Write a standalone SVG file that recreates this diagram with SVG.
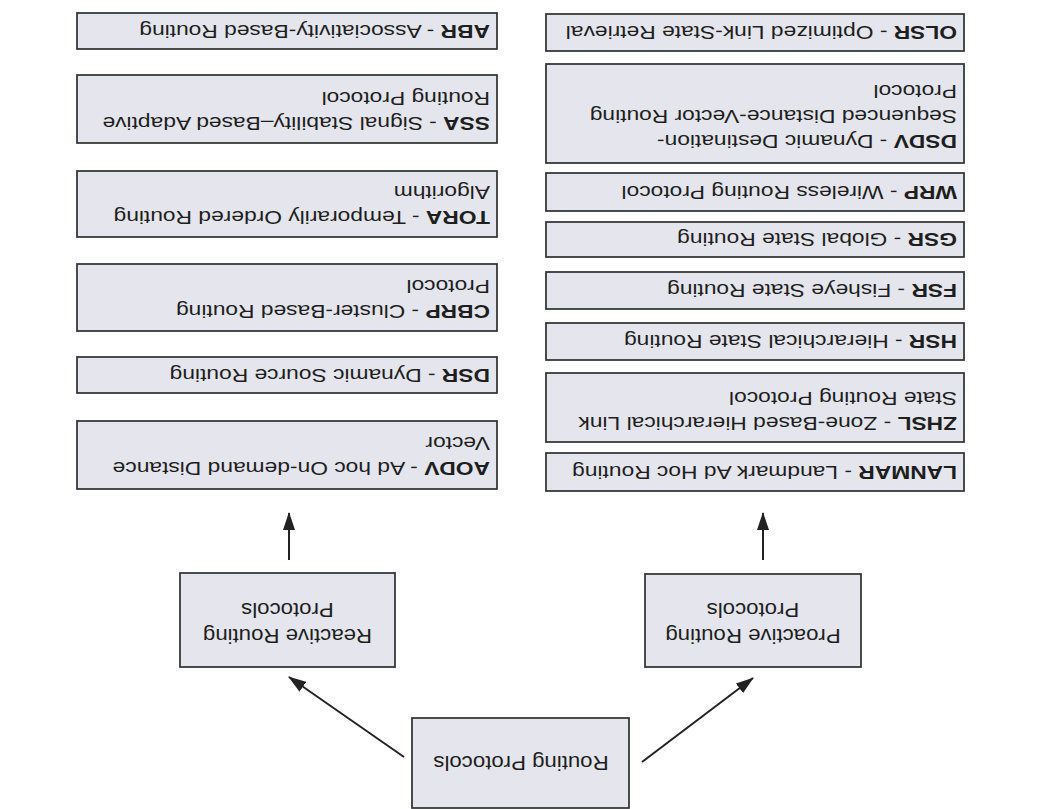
<svg xmlns="http://www.w3.org/2000/svg" width="1049" height="809" viewBox="0 0 1049 809">
<style>
.box{fill:#e5e6ed;stroke:#2e2e2e;stroke-width:1.7}
.t{font-family:"Liberation Sans",Arial,Helvetica,sans-serif;font-size:19px;fill:#1e1e1e}
.m{font-family:"Liberation Sans",Arial,Helvetica,sans-serif;font-size:19.5px;fill:#1e1e1e;text-anchor:middle}
.b{font-weight:bold}
.c{stroke:#222;stroke-width:2;fill:none}
</style>
<defs>
<marker id="ah" markerUnits="userSpaceOnUse" markerWidth="18" markerHeight="12" refX="17" refY="6" orient="auto">
<path d="M0,0 L18,6 L0,12 z" fill="#222"/>
</marker>
</defs>
<rect width="1049" height="809" fill="#fff"/>
<g transform="rotate(180 524.5 404.5)">
<g id="connectors">
<line class="c" x1="407" y1="47" x2="296" y2="131" marker-end="url(#ah)"/>
<line class="c" x1="645" y1="52" x2="760" y2="132" marker-end="url(#ah)"/>
<line class="c" x1="286" y1="249" x2="286" y2="296" marker-end="url(#ah)"/>
<line class="c" x1="760" y1="249" x2="760" y2="296" marker-end="url(#ah)"/>
</g>
<g id="routing-protocols">
<rect class="box" x="420" y="1" width="217" height="90"/>
<text class="m" transform="translate(528,53) scale(1.14,1)">Routing Protocols</text>
</g>
<g id="proactive">
<rect class="box" x="188" y="142" width="216" height="93"/>
<text class="m" transform="translate(296,180) scale(1.14,1)"><tspan x="0" y="0">Proactive Routing</tspan><tspan x="0" y="26">Protocols</tspan></text>
</g>
<g id="reactive">
<rect class="box" x="654" y="142" width="215" height="94"/>
<text class="m" transform="translate(761.5,180) scale(1.14,1)"><tspan x="0" y="0">Reactive Routing</tspan><tspan x="0" y="26">Protocols</tspan></text>
</g>
<g id="lanmar">
<rect class="box" x="85" y="318" width="418" height="38"/>
<text class="t" transform="translate(92,343.5) scale(1.2,1)"><tspan class="b">LANMAR</tspan> - Landmark Ad Hoc Routing</text>
</g>
<g id="zhsl">
<rect class="box" x="85" y="367" width="418" height="69"/>
<text class="t" transform="translate(92,392) scale(1.2,1)"><tspan x="0" y="0"><tspan class="b">ZHSL</tspan> - Zone-Based Hierarchical Link</tspan><tspan x="0" y="25">State Routing Protocol</tspan></text>
</g>
<g id="hsr">
<rect class="box" x="85" y="449" width="418" height="37"/>
<text class="t" transform="translate(92,474) scale(1.2,1)"><tspan class="b">HSR</tspan> - Hierarchical State Routing</text>
</g>
<g id="fsr">
<rect class="box" x="85" y="500" width="418" height="37"/>
<text class="t" transform="translate(92,525) scale(1.2,1)"><tspan class="b">FSR</tspan> - Fisheye State Routing</text>
</g>
<g id="gsr">
<rect class="box" x="85" y="552" width="418" height="35"/>
<text class="t" transform="translate(92,576) scale(1.2,1)"><tspan class="b">GSR</tspan> - Global State Routing</text>
</g>
<g id="wrp">
<rect class="box" x="85" y="598" width="418" height="38"/>
<text class="t" transform="translate(92,623.5) scale(1.2,1)"><tspan class="b">WRP</tspan> - Wireless Routing Protocol</text>
</g>
<g id="dsdv">
<rect class="box" x="85" y="646" width="418" height="99"/>
<text class="t" transform="translate(92,674) scale(1.2,1)"><tspan x="0" y="0"><tspan class="b">DSDV</tspan> - Dynamic Destination-</tspan><tspan x="0" y="25">Sequenced Distance-Vector Routing</tspan><tspan x="0" y="50">Protocol</tspan></text>
</g>
<g id="olsr">
<rect class="box" x="85" y="758" width="418" height="37"/>
<text class="t" transform="translate(92,783) scale(1.2,1)"><tspan class="b">OLSR</tspan> - Optimized Link-State Retrieval</text>
</g>
<g id="aodv">
<rect class="box" x="552" y="320" width="420" height="68"/>
<text class="t" transform="translate(559,347) scale(1.2,1)"><tspan x="0" y="0"><tspan class="b">AODV</tspan> - Ad hoc On-demand Distance</tspan><tspan x="0" y="25">Vector</tspan></text>
</g>
<g id="dsr">
<rect class="box" x="552" y="416" width="420" height="36"/>
<text class="t" transform="translate(559,440.5) scale(1.2,1)"><tspan class="b">DSR</tspan> - Dynamic Source Routing</text>
</g>
<g id="cbrp">
<rect class="box" x="552" y="478" width="420" height="67"/>
<text class="t" transform="translate(559,504) scale(1.2,1)"><tspan x="0" y="0"><tspan class="b">CBRP</tspan> - Cluster-Based Routing</tspan><tspan x="0" y="25">Protocol</tspan></text>
</g>
<g id="tora">
<rect class="box" x="552" y="572" width="420" height="66"/>
<text class="t" transform="translate(559,598) scale(1.2,1)"><tspan x="0" y="0"><tspan class="b">TORA</tspan> - Temporarily Ordered Routing</tspan><tspan x="0" y="25">Algorithm</tspan></text>
</g>
<g id="ssa">
<rect class="box" x="552" y="666" width="420" height="68"/>
<text class="t" transform="translate(559,692) scale(1.2,1)"><tspan x="0" y="0"><tspan class="b">SSA</tspan> - Signal Stability–Based Adaptive</tspan><tspan x="0" y="25">Routing Protocol</tspan></text>
</g>
<g id="abr">
<rect class="box" x="552" y="760" width="420" height="36"/>
<text class="t" transform="translate(559,784.5) scale(1.2,1)"><tspan class="b">ABR</tspan> - Associativity-Based Routing</text>
</g>
</g>
</svg>
